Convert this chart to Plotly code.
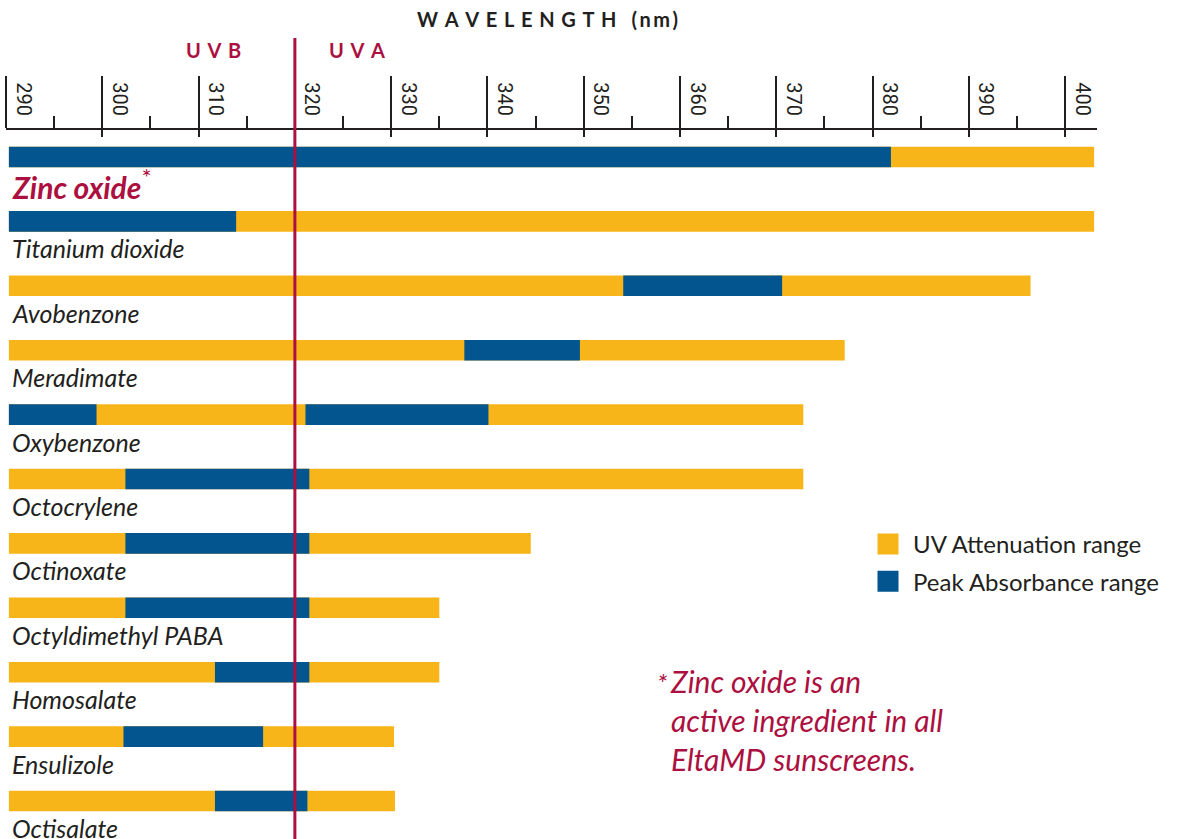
import plotly.graph_objects as go

# ---------------- data ----------------
compounds = ["Zinc oxide", "Titanium dioxide", "Avobenzone", "Meradimate", "Oxybenzone",
             "Octocrylene", "Octinoxate", "Octyldimethyl PABA", "Homosalate", "Ensulizole",
             "Octisalate"]
atten_start = [290.3, 290.3, 290.3, 290.3, 290.3, 290.3, 290.3, 290.3, 290.3, 290.3, 290.3]
atten_end = [403.0, 403.0, 396.4, 377.1, 372.8, 372.8, 344.5, 335.0, 335.0, 330.3, 330.4]

peak_compound = ["Zinc oxide", "Titanium dioxide", "Avobenzone", "Meradimate", "Oxybenzone",
                 "Oxybenzone", "Octocrylene", "Octinoxate", "Octyldimethyl PABA", "Homosalate",
                 "Ensulizole", "Octisalate"]
peak_start = [290.3, 290.3, 354.1, 337.6, 290.3, 321.1, 302.4, 302.4, 302.4, 311.7, 302.2, 311.7]
peak_end = [381.9, 313.9, 370.6, 349.6, 299.4, 340.1, 321.5, 321.5, 321.5, 321.5, 316.7, 321.3]

tick_values = [290, 300, 310, 320, 330, 340, 350, 360, 370, 380, 390, 400]
uvb_uva_boundary = 320

YELLOW = "#F8B51A"
BLUE = "#02558E"
CRIMSON = "#AC1040"
DARK = "#231F20"

W, H = 1180, 839
ML, MR, MT, MB = 6, 83, 130, 0
plot_w = W - ML - MR
plot_h = H - MT - MB


def px_x(px):
    return (px - ML) / plot_w


def px_y(py):
    return (H - MB - py) / plot_h


fig = go.Figure()
fig.add_trace(go.Bar(
    y=compounds,
    x=[e - s for s, e in zip(atten_start, atten_end)],
    base=atten_start,
    orientation="h",
    width=0.32,
    marker=dict(color=YELLOW, line=dict(width=0)),
    name="UV Attenuation range",
    showlegend=False,
    hoverinfo="skip",
))
fig.add_trace(go.Bar(
    y=peak_compound,
    x=[e - s for s, e in zip(peak_start, peak_end)],
    base=peak_start,
    orientation="h",
    width=0.32,
    marker=dict(color=BLUE, line=dict(width=0)),
    name="Peak Absorbance range",
    showlegend=False,
    hoverinfo="skip",
))
# legend entries (large square swatches)
for nm, col, grp in [("UV Attenuation range", YELLOW, "a"), ("Peak Absorbance range", BLUE, "b")]:
    fig.add_trace(go.Scatter(
        x=[None], y=[None], mode="markers", name=nm, legendgroup=grp,
        marker=dict(symbol="square", size=16, color=col, line=dict(width=5, color=col)),
    ))
# helper trace for the lower part of the major ticks
fig.add_trace(go.Scatter(x=[None], y=[None], xaxis="x2", showlegend=False, hoverinfo="skip"))

SP = "\u2004"
title_txt = "<b>" + SP.join("WAVELENGTH") + "\u2003(\u2009n\u2009m\u2009)</b>"

fig.update_layout(
    width=W, height=H,
    margin=dict(l=ML, r=MR, t=MT, b=MB, pad=0, autoexpand=False),
    paper_bgcolor="white", plot_bgcolor="white",
    barmode="overlay",
    font=dict(family="Lato, 'Open Sans', sans-serif", color=DARK),
    title=dict(
        text=title_txt,
        x=547.5 / W, xref="container", xanchor="center",
        y=1 - 19.5 / H, yref="container", yanchor="middle",
        font=dict(size=20, color=DARK, family="Lato, sans-serif"),
    ),
    xaxis=dict(
        side="top", range=[290, 403.3], automargin=False,
        tickmode="array", tickvals=tick_values, ticktext=[str(v) for v in tick_values],
        ticks="outside", ticklen=52, tickwidth=2, tickcolor=DARK,
        tickangle=90,
        tickfont=dict(size=20, color=DARK, family="Roboto, sans-serif"),
        ticklabelstandoff=-47, ticklabelshift=17,
        minor=dict(dtick=5, tick0=290, ticks="outside", ticklen=12, tickwidth=2, tickcolor=DARK),
        showline=True, linecolor=DARK, linewidth=2,
        showgrid=False, zeroline=False, fixedrange=True,
    ),
    xaxis2=dict(
        overlaying="x", matches="x", side="top", anchor="y", automargin=False,
        tickmode="array", tickvals=tick_values,
        ticks="inside", ticklen=7, tickwidth=2, tickcolor=DARK,
        showticklabels=False, showline=False, showgrid=False, zeroline=False,
    ),
    yaxis=dict(
        type="category", categoryorder="array", categoryarray=compounds,
        range=[10.59, -0.419], automargin=False,
        showticklabels=False,
        ticks="", showline=False, showgrid=False, zeroline=False,
        fixedrange=True,
    ),
    legend=dict(
        x=px_x(863), xref="paper", xanchor="left",
        y=px_y(522), yref="paper", yanchor="top",
        font=dict(size=24, color=DARK, family="Lato, sans-serif"),
        itemwidth=40, tracegroupgap=3, bgcolor="rgba(0,0,0,0)",
    ),
    showlegend=True,
)

# compound labels under each bar
for c in compounds:
    if c == "Zinc oxide":
        txt = "<b><i>Zinc oxide</i></b><sup><span style='font-size:24px'>*</span></sup>"
        col = CRIMSON
        size = 30
    else:
        txt = "<i>%s</i>" % c
        col = DARK
        size = 25
    fig.add_annotation(text=txt, xref="paper", yref="y", x=px_x(10), y=c,
                       xanchor="left", yanchor="middle", yshift=-27, showarrow=False,
                       font=dict(size=size, color=col, family="Lato, sans-serif"))

# UVB / UVA boundary line
fig.add_shape(type="line", xref="x", yref="paper",
              x0=uvb_uva_boundary, x1=uvb_uva_boundary,
              y0=0, y1=px_y(38),
              line=dict(color=CRIMSON, width=3), layer="above")

fig.add_annotation(text="<b>" + SP.join("UVB") + "</b>", xref="x", yref="paper",
                   x=uvb_uva_boundary, xanchor="right", xshift=-52,
                   y=px_y(50), yanchor="middle", showarrow=False,
                   font=dict(size=20, color=CRIMSON, family="Lato, sans-serif"))
fig.add_annotation(text="<b>" + SP.join("UVA") + "</b>", xref="x", yref="paper",
                   x=uvb_uva_boundary, xanchor="left", xshift=32,
                   y=px_y(50), yanchor="middle", showarrow=False,
                   font=dict(size=20, color=CRIMSON, family="Lato, sans-serif"))

# footnote
fig.add_annotation(text="<i>*</i>", xref="paper", yref="paper",
                   x=px_x(655), xanchor="left",
                   y=px_y(665), yanchor="top", showarrow=False,
                   font=dict(size=26, color=CRIMSON, family="Lato, sans-serif"))
fig.add_annotation(text="<i>Zinc oxide is an<br>active ingredient in all<br>EltaMD sunscreens.</i>",
                   xref="paper", yref="paper",
                   x=px_x(668), xanchor="left", align="left",
                   y=px_y(661), yanchor="top", showarrow=False,
                   font=dict(size=30, color=CRIMSON, family="Lato, sans-serif"))

fig.write_html("out.html", config={"displayModeBar": False},
               post_script="document.body.style.margin='0px';")
